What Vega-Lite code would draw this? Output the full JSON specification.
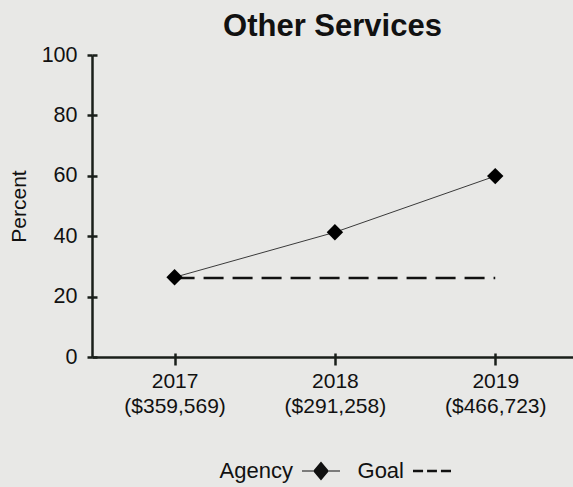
{
  "$schema": "https://vega.github.io/schema/vega-lite/v6.json",
  "width": 481,
  "height": 302,
  "autosize": {"type": "none"},
  "padding": {"left": 92, "top": 55, "right": 0, "bottom": 130},
  "background": "#e8e8e6",
  "title": {"text": "Other Services", "fontSize": 31, "fontWeight": "bold", "font": "Liberation Sans", "color": "#111111", "anchor": "middle", "offset": 1},
  "config": {"view": {"stroke": null}, "font": "Liberation Sans"},
  "data": {"values": [
    {"period": "2017 ($359,569)", "series": "Agency", "percent": 26.4},
    {"period": "2018 ($291,258)", "series": "Agency", "percent": 41.3},
    {"period": "2019 ($466,723)", "series": "Agency", "percent": 59.9},
    {"period": "2017 ($359,569)", "series": "Goal", "percent": 26.2},
    {"period": "2019 ($466,723)", "series": "Goal", "percent": 26.2}
  ]},
  "encoding": {
    "x": {"field": "period", "type": "ordinal", "scale": {"type": "point", "padding": 0.5, "align": 0.515},
      "axis": {"title": null, "labelAngle": 0, "labelExpr": "split(datum.label, ' ')", "labelLineHeight": 25, "labelFontSize": 21, "labelColor": "#111111", "labelPadding": 5, "tickSize": 8, "tickWidth": 2.5, "tickColor": "#1a1f1a", "domainColor": "#1a1f1a", "domainWidth": 2.5, "grid": true, "gridColor": "#1a1f1a", "gridWidth": 2.5, "gridDash": [4, 298], "gridDashOffset": 4}},
    "y": {"field": "percent", "type": "quantitative", "scale": {"domain": [0, 100]},
      "axis": {"title": "Percent", "titleFontSize": 21, "titleFontWeight": "normal", "titleColor": "#111111", "titlePadding": 12, "labelFontSize": 21.5, "labelColor": "#111111", "labelPadding": 10, "tickSize": 5, "tickWidth": 2.5, "tickColor": "#1a1f1a", "domainColor": "#1a1f1a", "domainWidth": 2.5, "values": [0, 20, 40, 60, 80, 100], "grid": true, "gridColor": "#1a1f1a", "gridWidth": 2.5, "gridDash": [5, 2000]}}
  },
  "layer": [
    {"transform": [{"filter": "datum.series === 'Goal'"}], "mark": {"type": "line", "color": "#111111", "strokeWidth": 2.5, "strokeDash": [20, 9]}},
    {"transform": [{"filter": "datum.series === 'Agency'"}], "mark": {"type": "line", "color": "#3a3a3a", "strokeWidth": 1}},
    {"transform": [{"filter": "datum.series === 'Agency'"}], "mark": {"type": "point", "filled": true, "opacity": 1, "color": "#000000", "size": 270, "shape": "diamond"}},
    {"transform": [{"filter": "datum.series === 'Agency'"}], "mark": {"type": "point", "filled": true, "opacity": 0, "color": "#111111", "strokeWidth": 0},
      "encoding": {"shape": {"field": "series", "type": "nominal",
        "scale": {"domain": ["Agency", "Goal"], "range": ["M-1,-0.03H-0.42V0.03H-1ZM0.42,-0.03H1V0.03H0.42ZM0,-0.5L0.42,0L0,0.5L-0.42,0Z", "M-1,-0.065H-0.47V0.065H-1ZM-0.26,-0.065H0.26V0.065H-0.26ZM0.47,-0.065H1V0.065H0.47ZM0,-0.5M0,0.5"]},
        "legend": {"orient": "none", "legendX": 210, "legendY": 397, "direction": "horizontal", "title": null, "labelFontSize": 22, "labelColor": "#111111", "labelAlign": "right", "labelOffset": -47, "symbolSize": 1444, "symbolOpacity": 1, "symbolFillColor": "#0d0d0d", "symbolStrokeWidth": 0, "columnPadding": 17}}}}
  ]
}
